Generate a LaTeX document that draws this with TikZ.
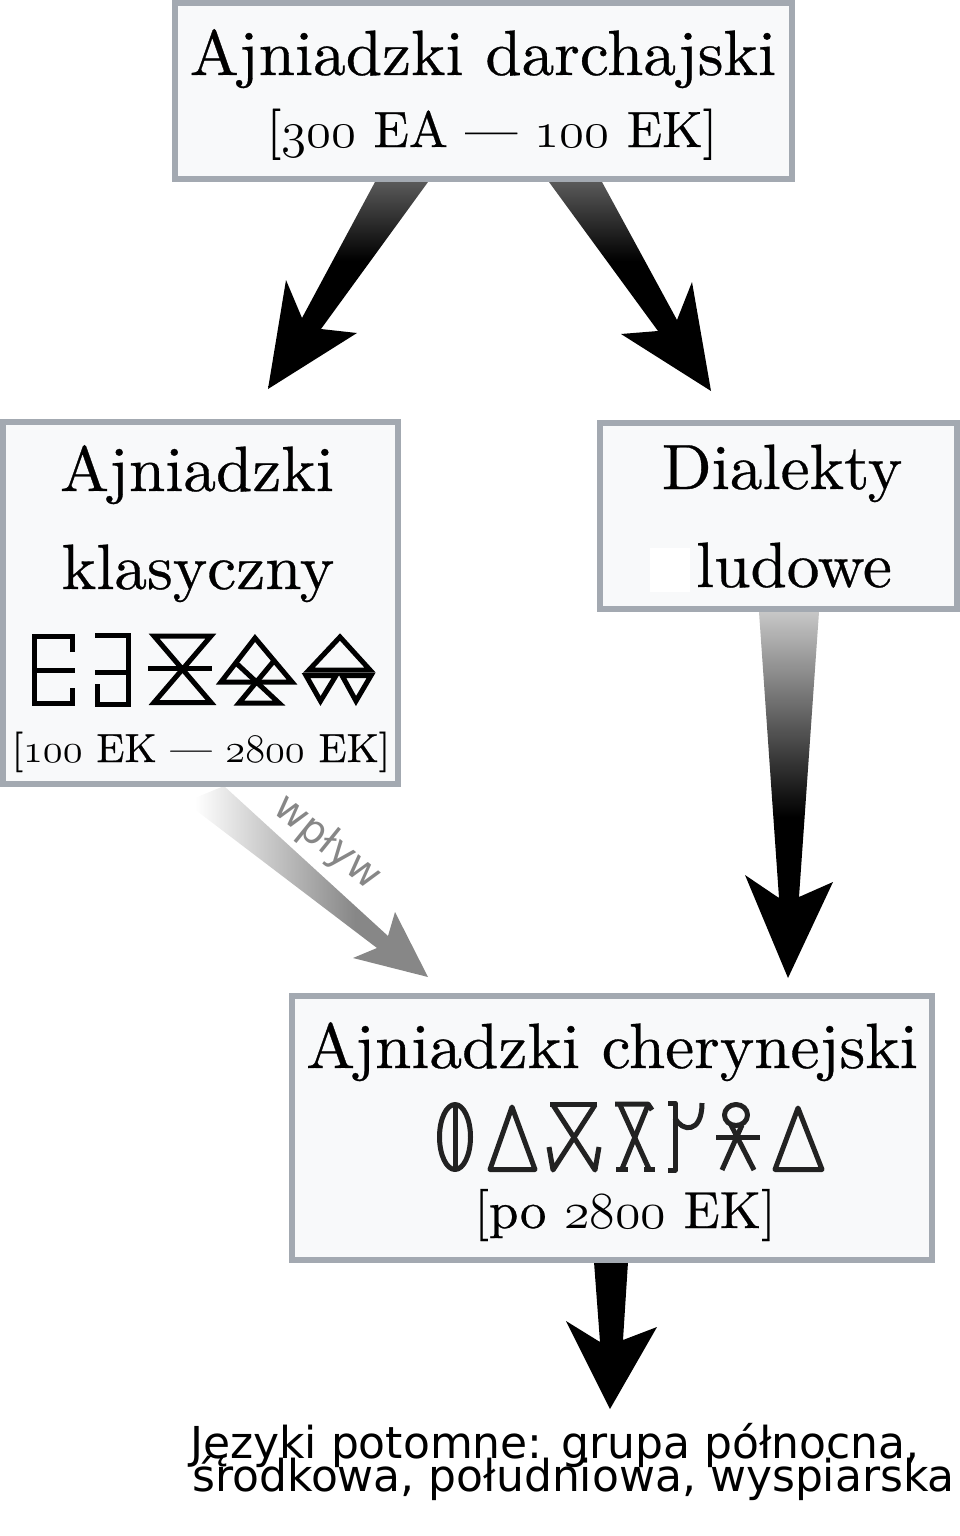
\documentclass[tikz,border=0pt]{standalone}
\usepackage{fix-cm}
\usepackage{fontspec}
\setmainfont{lmroman10-regular.otf}[FakeStretch=1.02, FakeBold=0.5]
\newfontfamily\dejavu{DejaVu Sans}
\newcommand\osn[1]{{\fontencoding{OML}\fontfamily{cmm}\fontseries{m}\fontshape{it}\selectfont #1}}
\definecolor{boxgray}{HTML}{A3A9B1}
\definecolor{boxfill}{HTML}{F8F9FA}
\definecolor{glyphc}{HTML}{222222}
\pgfdeclareverticalshading{topfade}{100bp}{color(0bp)=(black); color(25bp)=(black); color(56bp)=(black); color(75bp)=(black!65); color(100bp)=(black!65)}
\pgfdeclareverticalshading{dialfade}{100bp}{color(0bp)=(black); color(25bp)=(black); color(47bp)=(black); color(75bp)=(black!22); color(100bp)=(black!22)}
\pgfdeclarehorizontalshading{wpfade}{100bp}{color(0bp)=(white); color(27bp)=(white); color(60bp)=(black!47); color(100bp)=(black!47)}
\tikzset{
  box/.style={draw=boxgray, line width=6pt, fill=boxfill, inner sep=0pt, outer sep=0pt},
  ttl/.style={font=\fontsize{64}{70}\selectfont, anchor=base, inner sep=0pt},
  dat/.style={anchor=base, inner sep=0pt},
  clsg/.style={line width=5pt, black, line join=miter},
  cheg/.style={line width=5pt, glyphc, line join=round},
  sanstxt/.style={font=\dejavu\fontsize{44}{44}\selectfont, anchor=base west, inner sep=0pt},
}
\begin{document}
\begin{tikzpicture}[x=1pt,y=-1pt]
\useasboundingbox (0,0) rectangle (960,1536);
% arrows (drawn first, under the boxes)
\coordinate (aL) at (375,182);
\coordinate (aR) at (549,182);
\shade[shading=topfade] (aL) -- (428,182) -- (321,329) -- (357,333) -- (268,389) -- (286,280) -- (302,318) -- cycle;
\shade[shading=topfade] (aR) -- (602,182) -- (677,320) -- (692,282) -- (711,391) -- (621,334) -- (658,331) -- cycle;
\shade[shading=dialfade] (759,612) -- (819,612) -- (799,897) -- (833,882) -- (788,978) -- (745,875) -- (779,898) -- cycle;
\shade[shading=wpfade] (224,786) -- (388,936) -- (395,912) -- (428,977) -- (353,958) -- (377,948) -- (185,802) -- cycle;
\fill[black] (594,1262) -- (628,1262) -- (623,1340) -- (657,1327) -- (610,1409) -- (566,1321) -- (600,1342) -- cycle;
% boxes
\node[box, minimum width=617pt, minimum height=176pt] (top) at (483.5,91) {};
\node[box, minimum width=395pt, minimum height=362pt] (kla) at (200.5,603) {};
\node[box, minimum width=357pt, minimum height=186pt] (dia) at (778.5,516) {};
\node[box, minimum width=640pt, minimum height=264pt] (che) at (612,1128) {};
% texts
\node[ttl] (t1) at (483,75) {Ajniadzki darchajski};
\node[dat, font=\fontsize{51}{56}\selectfont] (t2) at (492,147) {[\osn{300} EA — \osn{100} EK]};
\node[ttl] (k1) at (197,491) {Ajniadzki};
\node[ttl] (k2) at (198,589) {klasyczny};
\node[dat, font=\fontsize{40.5}{46}\selectfont] (k3) at (201,762) {[\osn{100} EK — \osn{2800} EK]};
\node[ttl] (d1) at (782,489) {Dialekty};
\fill[white] (650,548) rectangle (690,592);
\node[ttl] (d2) at (794,587) {ludowe};
\node[ttl] (c1) at (612,1068) {Ajniadzki cherynejski};
\node[dat, font=\fontsize{52}{56}\selectfont] (c2) at (625,1228) {[po \osn{2800} EK]};
\node[sanstxt] (p1) at (190,1458) {Języki potomne: grupa północna,};
\node[sanstxt] (p2) at (192,1491) {środkowa, południowa, wyspiarska};
\node[rotate=-39, text=black!47, font=\dejavu\fontsize{40}{40}\selectfont, inner sep=0pt] (wp) at (327,843) {wpływ};
% classical glyphs
\draw[clsg] (72.5,652) -- (72.5,636) -- (34.5,636) -- (34.5,703) -- (72.5,703) -- (72.5,688);
\draw[clsg] (34.5,670.5) -- (75,670.5);
\draw[clsg] (95,635.5) -- (128.5,635.5) -- (128.5,704) -- (97.5,704) -- (97.5,684);
\draw[clsg] (95,672.5) -- (128.5,672.5);
\draw[clsg] (154,636) -- (211,636) -- (154,702.5) -- (211,702.5) -- cycle;
\draw[clsg] (148,668.5) -- (212,668.5);
\draw[clsg] (255,638) -- (292,682) -- (221,682) -- cycle;
\draw[clsg] (235,662) -- (279,703) -- (239,703) -- (273,662);
\draw[clsg] (340,637) -- (370,670) -- (309,670) -- cycle;
\draw[clsg] (306,675.5) -- (336,675.5) -- (320.5,701) -- cycle;
\draw[clsg] (342,675.5) -- (371,675.5) -- (356,701) -- cycle;
% cherynejski glyphs
\draw[cheg] (455,1137) ellipse [x radius=15.5, y radius=32.5];
\draw[cheg] (455,1104) -- (455,1170);
\draw[cheg] (512,1107) -- (535,1169.5) -- (490,1169.5) -- cycle;
\draw[cheg] (550,1104.5) -- (597,1104.5);
\draw[cheg] (553,1105) -- (595,1170) -- (599,1147);
\draw[cheg] (595,1105) -- (553,1170) -- (549,1147);
\draw[cheg] (615,1104) -- (648,1104) -- (652,1110);
\draw[cheg] (620,1105) -- (649,1169);
\draw[cheg] (648,1105) -- (622,1169);
\draw[cheg] (616,1169.5) -- (628,1169.5);
\draw[cheg] (644,1169.5) -- (655,1169.5);
\draw[cheg] (668,1103) -- (675,1103) -- (675,1170) -- (668,1170);
\draw[cheg] (675,1118) .. controls (682,1132) and (702,1134) .. (702,1103);
\draw[cheg] (736,1115) ellipse [x radius=11.5, y radius=10.5];
\draw[cheg] (716,1137) -- (760,1137);
\draw[cheg] (731,1125) -- (754,1170);
\draw[cheg] (742,1125) -- (722,1170);
\draw[cheg] (798,1108) -- (822,1169.5) -- (775,1169.5) -- cycle;
\end{tikzpicture}
\end{document}
